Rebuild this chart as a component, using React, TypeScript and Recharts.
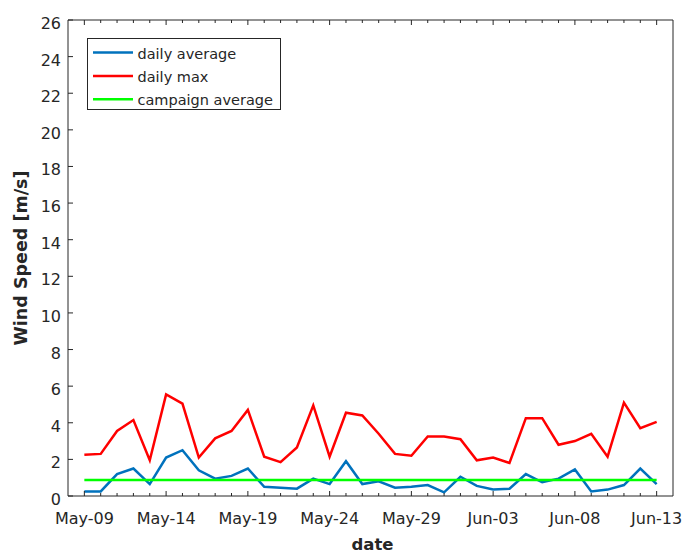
import { LineChart, Line, XAxis, YAxis, Legend } from "recharts";

const dates = [
  "May-09", "May-10", "May-11", "May-12", "May-13", "May-14", "May-15", "May-16",
  "May-17", "May-18", "May-19", "May-20", "May-21", "May-22", "May-23", "May-24",
  "May-25", "May-26", "May-27", "May-28", "May-29", "May-30", "May-31", "Jun-01",
  "Jun-02", "Jun-03", "Jun-04", "Jun-05", "Jun-06", "Jun-07", "Jun-08", "Jun-09",
  "Jun-10", "Jun-11", "Jun-12", "Jun-13",
];

const dailyAverage = [
  0.25, 0.25, 1.2, 1.5, 0.65, 2.1, 2.5, 1.4, 0.95, 1.1, 1.5, 0.5,
  0.45, 0.4, 0.95, 0.65, 1.9, 0.65, 0.8, 0.45, 0.5, 0.6, 0.2, 1.05,
  0.55, 0.35, 0.4, 1.2, 0.75, 0.95, 1.45, 0.25, 0.35, 0.6, 1.5, 0.65,
];

const dailyMax = [
  2.25, 2.3, 3.55, 4.15, 1.95, 5.55, 5.05, 2.1, 3.15, 3.55, 4.7, 2.15,
  1.85, 2.65, 4.95, 2.15, 4.55, 4.4, 3.4, 2.3, 2.2, 3.25, 3.25, 3.1,
  1.95, 2.1, 1.8, 4.25, 4.25, 2.8, 3.0, 3.4, 2.15, 5.1, 3.7, 4.05,
];

const campaignAverage = 0.87;

const yTicks = [0, 2, 4, 6, 8, 10, 12, 14, 16, 18, 20, 22, 24, 26];
const seriesNames = ["daily average", "daily max", "campaign average"];

const dayTicks = dates.map((_, i) => i);
const data = dates.map((date, i) => ({
  i,
  date,
  avg: dailyAverage[i],
  max: dailyMax[i],
  campaign: campaignAverage,
}));

const INK = "#262626";
const FONT = "'DejaVu Sans', sans-serif";

function BottomTick(props: any) {
  const { x, y, payload } = props;
  const i = payload.value;
  const major = i % 5 === 0;
  return (
    <g>
      <line x1={x} x2={x} y1={y} y2={y - (major ? 5 : 3)} stroke={INK} />
      {major && (
        <text x={x} y={y + 28} textAnchor="middle" fontSize={16} fontFamily={FONT} fill={INK}>
          {dates[i]}
        </text>
      )}
    </g>
  );
}

function TopTick(props: any) {
  const { x, y, payload } = props;
  const major = payload.value % 5 === 0;
  return <line x1={x} x2={x} y1={y} y2={y + (major ? 5 : 3)} stroke={INK} />;
}

function LeftTick(props: any) {
  const { x, y, payload } = props;
  return (
    <g>
      <line x1={x} x2={x + 5} y1={y} y2={y} stroke={INK} />
      <text x={x - 7} y={y + 9} textAnchor="end" fontSize={16} fontFamily={FONT} fill={INK}>
        {payload.value}
      </text>
    </g>
  );
}

function RightTick(props: any) {
  const { x, y } = props;
  return <line x1={x} x2={x - 5} y1={y} y2={y} stroke={INK} />;
}

function LegendBox(props: any) {
  const items = [...(props.payload || [])].sort(
    (a: any, b: any) => seriesNames.indexOf(a.value) - seriesNames.indexOf(b.value)
  );
  return (
    <svg width={194} height={72} style={{ display: "block" }}>
      <rect x={0.5} y={0.5} width={193} height={71} fill="#fff" stroke={INK} />
      {items.map((p: any, k: number) => {
        const cy = 14.5 + k * 23.4;
        return (
          <g key={p.value}>
            <line x1={6} x2={46} y1={cy} y2={cy} stroke={p.color} strokeWidth={2.5} />
            <text x={50.5} y={cy + 6} fontSize={14.5} fontFamily={FONT} fill={INK}>
              {p.value}
            </text>
          </g>
        );
      })}
    </svg>
  );
}

export default function App() {
  return (
    <div style={{ position: "absolute", left: 0, top: 0, width: 686, height: 554, background: "#fff" }}>
      <LineChart width={686} height={554} data={data} margin={{ top: 0, right: 0, bottom: 0, left: 0 }}>
        <XAxis
          dataKey="i"
          type="number"
          domain={[-1, 36]}
          ticks={dayTicks}
          height={58}
          tickSize={0}
          tickMargin={0}
          tick={BottomTick}
          axisLine={{ stroke: INK }}
          interval={0}
          label={{
            value: "date",
            position: "insideBottom",
            offset: 4,
            dx: 2,
            style: { fontFamily: FONT, fontWeight: "bold", fontSize: 16.5, fill: INK },
          }}
        />
        <XAxis
          xAxisId="top"
          orientation="top"
          dataKey="i"
          type="number"
          domain={[-1, 36]}
          ticks={dayTicks}
          height={20}
          tickSize={0}
          tickMargin={0}
          tick={TopTick}
          axisLine={{ stroke: INK }}
          interval={0}
        />
        <YAxis
          type="number"
          domain={[0, 26]}
          ticks={yTicks}
          width={68}
          tickSize={0}
          tickMargin={0}
          tick={LeftTick}
          axisLine={{ stroke: INK }}
          interval={0}
          label={{
            value: "Wind Speed [m/s]",
            angle: -90,
            position: "insideLeft",
            offset: 21,
            style: { textAnchor: "middle", fontFamily: FONT, fontWeight: "bold", fontSize: 17.5, fill: INK },
          }}
        />
        <YAxis
          yAxisId="right"
          orientation="right"
          type="number"
          domain={[0, 26]}
          ticks={yTicks}
          width={13}
          tickSize={0}
          tickMargin={0}
          tick={RightTick}
          axisLine={{ stroke: INK }}
          interval={0}
        />
        <Legend
          content={LegendBox}
          layout="vertical"
          align="center"
          verticalAlign="middle"
          wrapperStyle={{ left: 87, top: 38, width: 194, height: 72 }}
        />
        <Line type="linear" dataKey="avg" name="daily average" stroke="#0072BD" strokeWidth={2.5} dot={false} isAnimationActive={false} />
        <Line type="linear" dataKey="max" name="daily max" stroke="#FF0000" strokeWidth={2.5} dot={false} isAnimationActive={false} />
        <Line type="linear" dataKey="campaign" name="campaign average" stroke="#00FF00" strokeWidth={2.5} dot={false} isAnimationActive={false} />
      </LineChart>
    </div>
  );
}
